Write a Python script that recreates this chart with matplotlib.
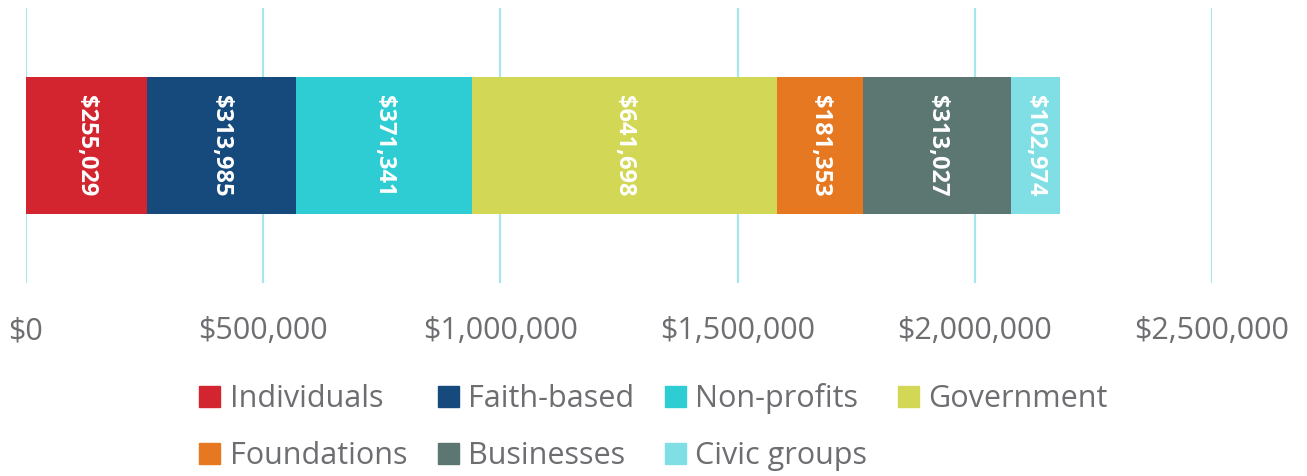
import matplotlib
matplotlib.use("Agg")
import matplotlib.pyplot as plt
from matplotlib.patches import Patch

plt.rcParams["font.family"] = ["Open Sans", "DejaVu Sans"]

categories = ["Individuals", "Faith-based", "Non-profits", "Government",
              "Foundations", "Businesses", "Civic groups"]
values = [255029, 313985, 371341, 641698, 181353, 313027, 102974]
colors = ["#D3252F", "#174A7C", "#2ECCD3", "#D2D755",
          "#E67821", "#5C7672", "#80DFE5"]
ticks = [0, 500000, 1000000, 1500000, 2000000, 2500000]

fig = plt.figure(figsize=(13.07, 4.76), dpi=100)
ax = fig.add_axes([26 / 1307, 1 - 283 / 476, (1212 - 26) / 1307, 275 / 476])

left = 0
for cat, v, c in zip(categories, values, colors):
    ax.barh(0, v, left=left, height=1.0, color=c, zorder=3)
    ax.text(left + v / 2, 0.37, f"${v:,}", rotation=270, ha="center",
            va="top", color="white", fontsize=17, fontweight="bold",
            zorder=4)
    left += v

ax.set_xlim(0, 2500000)
ax.set_ylim(-1, 1)
ax.set_xticks(ticks)
ax.set_xticklabels([f"${t:,}" for t in ticks])
ax.tick_params(axis="x", length=0, pad=24, labelsize=22,
               labelcolor="#6D6E71")
ax.set_yticks([])
ax.grid(axis="x", color="#A8E6EC", lw=1.6, zorder=0)
for s in ax.spines.values():
    s.set_visible(False)

# matplotlib fills legend columns first, so reorder for row layout
order = [0, 4, 1, 5, 2, 6, 3]
handles = [Patch(color=colors[i], label=categories[i]) for i in order]
fig.legend(handles=handles, loc="center", bbox_to_anchor=(0.5, 0.103),
           ncol=4, frameon=False, fontsize=22, labelcolor="#6D6E71",
           handlelength=0.7, handleheight=0.7, handletextpad=0.3,
           columnspacing=1.0, labelspacing=0.88, borderpad=0)

fig.savefig("out.png", dpi=100)
